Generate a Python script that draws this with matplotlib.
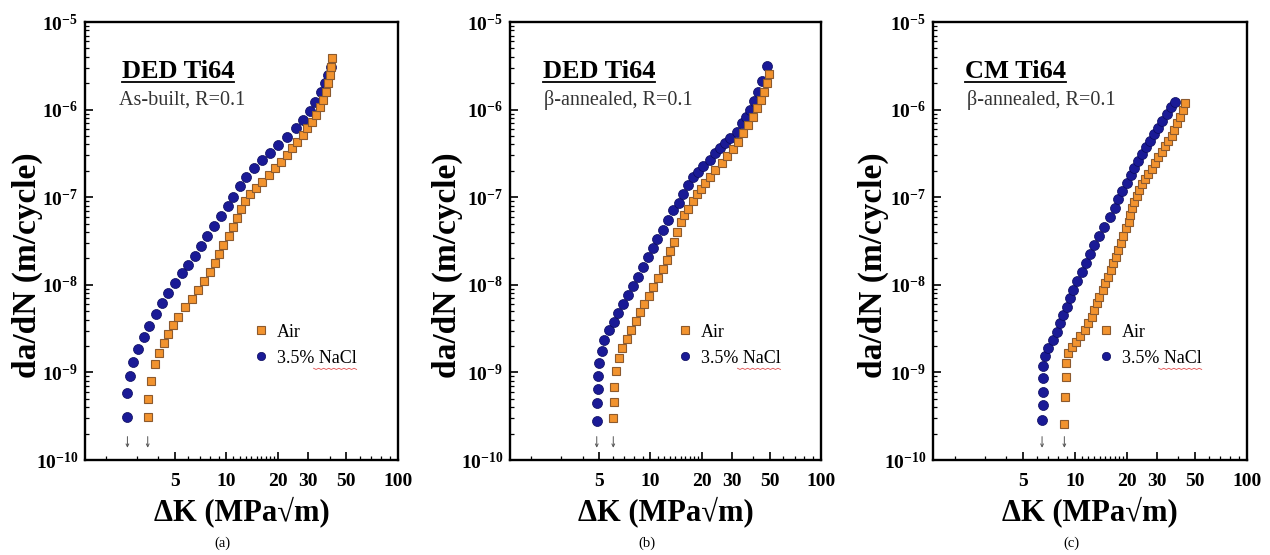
import numpy as np
import matplotlib
matplotlib.use("Agg")
import matplotlib.pyplot as plt
from matplotlib.ticker import FixedLocator, FixedFormatter, NullFormatter
from matplotlib.lines import Line2D

# ---------------- data ----------------
# Panel (a) DED Ti64 as-built
a_air_dK = [3.48, 3.48, 3.64, 3.84, 4.07, 4.33, 4.59, 4.90, 5.25, 5.74, 6.28, 6.86, 7.44, 8.02,
            8.58, 9.09, 9.6, 10.3, 10.9, 11.5, 12.1, 12.8, 13.8, 14.9, 16.2, 17.6, 19.1, 20.7,
            22.5, 24.0, 25.9, 27.8, 29.6, 31.4, 33.3, 35.1, 36.7, 38.1, 39.3, 40.2, 40.5, 41.1]
a_air_dadn = [3.07e-10, 4.93e-10, 8.04e-10, 1.24e-9, 1.65e-9, 2.15e-9, 2.74e-9, 3.47e-9, 4.32e-9,
              5.53e-9, 6.89e-9, 8.73e-9, 1.1e-8, 1.41e-8, 1.79e-8, 2.25e-8, 2.85e-8, 3.6e-8, 4.6e-8,
              5.74e-8, 7.3e-8, 9.0e-8, 1.08e-7, 1.28e-7, 1.5e-7, 1.79e-7, 2.14e-7, 2.54e-7, 3.03e-7,
              3.61e-7, 4.3e-7, 5.13e-7, 6.1e-7, 7.28e-7, 8.67e-7, 1.06e-6, 1.29e-6, 1.6e-6, 2.0e-6,
              2.48e-6, 3.09e-6, 3.86e-6]
a_nacl_dK = [2.65, 2.65, 2.74, 2.85, 3.07, 3.31, 3.56, 3.87, 4.2, 4.55, 5.02, 5.49, 6.0, 6.56, 7.11,
             7.74, 8.47, 9.3, 10.2, 11.0, 12.0, 13.0, 14.5, 16.1, 18.0, 20.1, 22.6, 25.5, 28.1,
             30.5, 33.0, 35.5, 37.5, 39.3, 40.6]
a_nacl_dadn = [3.07e-10, 5.77e-10, 9.1e-10, 1.32e-9, 1.84e-9, 2.56e-9, 3.41e-9, 4.6e-9, 6.15e-9,
               8.13e-9, 1.06e-8, 1.35e-8, 1.68e-8, 2.13e-8, 2.77e-8, 3.6e-8, 4.69e-8, 6.1e-8, 7.9e-8,
               1.01e-7, 1.35e-7, 1.7e-7, 2.14e-7, 2.66e-7, 3.22e-7, 3.95e-7, 4.9e-7, 6.1e-7, 7.7e-7,
               9.6e-7, 1.22e-6, 1.58e-6, 2.0e-6, 2.5e-6, 3.1e-6]

# Panel (b) DED Ti64 beta-annealed
b_air_dK = [6.05, 6.11, 6.13, 6.26, 6.54, 6.84, 7.25, 7.69, 8.19, 8.68, 9.2, 9.8, 10.4, 11.1, 11.8,
            12.45, 13.1, 13.7, 14.4, 15.1, 15.8, 16.7, 17.7, 18.7, 19.8, 20.9, 22.2, 24.0, 26.2,
            28.2, 30.6, 32.7, 35.0, 37.5, 40.1, 42.3, 44.5, 46.4, 48.0, 49.8]
b_air_dadn = [2.99e-10, 4.56e-10, 6.87e-10, 1.05e-9, 1.45e-9, 1.91e-9, 2.4e-9, 3.05e-9, 3.86e-9,
              4.85e-9, 6.0e-9, 7.45e-9, 9.35e-9, 1.19e-8, 1.51e-8, 1.92e-8, 2.45e-8, 3.1e-8, 4.03e-8,
              5.25e-8, 6.3e-8, 7.4e-8, 9.0e-8, 1.08e-7, 1.25e-7, 1.45e-7, 1.7e-7, 2.05e-7, 2.45e-7,
              2.95e-7, 3.52e-7, 4.3e-7, 5.37e-7, 6.7e-7, 8.3e-7, 1.04e-6, 1.29e-6, 1.6e-6, 2.0e-6,
              2.55e-6]
b_nacl_dK = [4.84, 4.88, 4.90, 4.90, 4.97, 5.18, 5.36, 5.73, 6.11, 6.48, 6.87, 7.41, 7.93, 8.48,
             9.07, 9.64, 10.3, 10.96, 11.8, 12.6, 13.5, 14.6, 15.6, 16.7, 17.8, 19.1, 20.4, 22.3,
             23.9, 25.6, 27.4, 29.3, 32.0, 34.3, 36.3, 38.3, 40.5, 42.8, 45.3, 48.0]
b_nacl_dadn = [2.81e-10, 4.43e-10, 6.46e-10, 9.1e-10, 1.29e-9, 1.77e-9, 2.35e-9, 3.05e-9, 3.8e-9,
               4.73e-9, 6.0e-9, 7.66e-9, 9.7e-9, 1.24e-8, 1.58e-8, 2.06e-8, 2.61e-8, 3.35e-8, 4.22e-8,
               5.5e-8, 7.1e-8, 8.65e-8, 1.1e-7, 1.38e-7, 1.68e-7, 1.95e-7, 2.3e-7, 2.66e-7, 3.17e-7,
               3.61e-7, 4.12e-7, 4.7e-7, 5.6e-7, 6.97e-7, 8.3e-7, 9.9e-7, 1.25e-6, 1.6e-6, 2.1e-6,
               3.15e-6]

# Panel (c) CM Ti64 beta-annealed
c_air_dK = [8.69, 8.77, 8.85, 8.85, 9.17, 9.59, 10.16, 10.7, 11.4, 12.0, 12.5, 13.0, 13.4, 13.9,
            14.5, 15.0, 15.5, 16.2, 16.7, 17.4, 17.9, 18.5, 19.1, 19.8, 20.5, 20.9, 21.6, 22.2,
            22.9, 23.7, 24.6, 25.6, 26.7, 27.9, 29.2, 30.6, 32.0, 33.4, 34.9, 36.6, 37.9, 39.4,
            40.9, 42.4, 43.7]
c_air_dadn = [2.56e-10, 5.2e-10, 8.9e-10, 1.27e-9, 1.65e-9, 1.93e-9, 2.24e-9, 2.6e-9, 3.05e-9,
              3.63e-9, 4.32e-9, 5.15e-9, 6.14e-9, 7.3e-9, 8.73e-9, 1.04e-8, 1.24e-8, 1.48e-8,
              1.76e-8, 2.1e-8, 2.5e-8, 2.98e-8, 3.6e-8, 4.4e-8, 5.25e-8, 6.26e-8, 7.46e-8, 8.9e-8,
              1.04e-7, 1.2e-7, 1.4e-7, 1.62e-7, 1.85e-7, 2.1e-7, 2.45e-7, 2.85e-7, 3.3e-7, 3.8e-7,
              4.35e-7, 5.0e-7, 5.85e-7, 6.97e-7, 8.3e-7, 9.9e-7, 1.18e-6]
c_nacl_dK = [6.45, 6.51, 6.51, 6.51, 6.51, 6.71, 7.02, 7.44, 7.85, 8.2, 8.57, 8.97, 9.38, 9.8, 10.3,
             11.0, 11.6, 12.3, 13.0, 13.8, 14.8, 15.9, 17.0, 17.9, 18.9, 20.0, 21.1, 22.2, 23.4,
             24.6, 25.8, 27.2, 28.7, 30.3, 32.0, 34.2, 36.4, 38.2]
c_nacl_dadn = [2.86e-10, 4.25e-10, 5.93e-10, 8.57e-10, 1.19e-9, 1.54e-9, 1.88e-9, 2.34e-9, 2.92e-9,
               3.63e-9, 4.52e-9, 5.62e-9, 7.0e-9, 8.73e-9, 1.11e-8, 1.41e-8, 1.79e-8, 2.25e-8,
               2.85e-8, 3.6e-8, 4.6e-8, 5.9e-8, 7.46e-8, 9.5e-8, 1.18e-7, 1.45e-7, 1.78e-7, 2.15e-7,
               2.6e-7, 3.1e-7, 3.7e-7, 4.4e-7, 5.2e-7, 6.2e-7, 7.4e-7, 9.0e-7, 1.07e-6, 1.23e-6]

panel_titles = ["DED Ti64", "DED Ti64", "CM Ti64"]
panel_subtitles = ["As-built, R=0.1", "\u03b2-annealed, R=0.1", "\u03b2-annealed, R=0.1"]
panel_letters = ["(a)", "(b)", "(c)"]
series_labels = ["Air", "3.5% NaCl"]

x_major = [5, 10, 20, 30, 50, 100]
x_major_labels = ["5", "10", "20", "30", "50", "100"]
y_major = [1e-10, 1e-9, 1e-8, 1e-7, 1e-6, 1e-5]
y_major_labels = [r"$\mathbf{10^{-10}}$", r"$\mathbf{10^{-9}}$", r"$\mathbf{10^{-8}}$",
                  r"$\mathbf{10^{-7}}$", r"$\mathbf{10^{-6}}$", r"$\mathbf{10^{-5}}$"]

# ---------------- style ----------------
plt.rcParams['font.family'] = ['Liberation Serif', 'DejaVu Serif']
plt.rcParams['mathtext.fontset'] = 'custom'
plt.rcParams['mathtext.rm'] = 'Liberation Serif'
plt.rcParams['mathtext.bf'] = 'Liberation Serif:bold'
plt.rcParams['mathtext.it'] = 'Liberation Serif:italic'

AIR_FACE = '#F2932E'
AIR_EDGE = '#8C5A2E'
NACL_FACE = '#1A1A96'
NACL_EDGE = '#0C0C5E'

W, H = 1270, 555
fig = plt.figure(figsize=(W / 100, H / 100), dpi=100)

ax_px = [(85, 398), (510, 821), (933, 1247)]
top_px, bot_px = 22, 460

data = [
    (a_air_dK, a_air_dadn, a_nacl_dK, a_nacl_dadn),
    (b_air_dK, b_air_dadn, b_nacl_dK, b_nacl_dadn),
    (c_air_dK, c_air_dadn, c_nacl_dK, c_nacl_dadn),
]
title_x = [0.118, 0.106, 0.102]
sub_x = [0.109, 0.109, 0.108]
leg_x = [0.538, 0.538, 0.527]
ylab_x = [-0.135, -0.15, -0.14]

x_minor = [2, 3, 4, 6, 7, 8, 9, 11, 12, 13, 14, 15, 16, 17, 18, 19, 40, 60, 70, 80, 90]
y_minor = [m * 10.0 ** e for e in range(-10, -5) for m in range(2, 10)]

axes = []
for i in range(3):
    l, r = ax_px[i]
    ax = fig.add_axes([l / W, (H - bot_px) / H, (r - l) / W, (bot_px - top_px) / H])
    axes.append(ax)
    air_x, air_y, na_x, na_y = data[i]
    ax.set_xscale('log')
    ax.set_yscale('log')
    ax.set_xlim(1.5, 100)
    ax.set_ylim(1e-10, 1e-5)

    h_air, = ax.plot(air_x, air_y, linestyle='none', marker='s', markersize=6.4,
                     markerfacecolor=AIR_FACE, markeredgecolor=AIR_EDGE, markeredgewidth=0.8,
                     label=series_labels[0], zorder=3)
    h_na, = ax.plot(na_x, na_y, linestyle='none', marker='o', markersize=7.2,
                    markerfacecolor=NACL_FACE, markeredgecolor=NACL_EDGE, markeredgewidth=0.5,
                    label=series_labels[1], zorder=2)

    # threshold arrows under first points
    for xs in (na_x[0], air_x[0]):
        ax.annotate('', xy=(xs, 1.38e-10), xytext=(xs, 1.85e-10),
                    arrowprops=dict(arrowstyle='->', color='#555555', lw=0.7,
                                    mutation_scale=5, shrinkA=0, shrinkB=0))

    # ticks
    ax.xaxis.set_major_locator(FixedLocator(x_major))
    ax.xaxis.set_major_formatter(FixedFormatter(x_major_labels))
    ax.xaxis.set_minor_locator(FixedLocator(x_minor))
    ax.xaxis.set_minor_formatter(NullFormatter())
    ax.yaxis.set_major_locator(FixedLocator(y_major))
    ax.yaxis.set_major_formatter(FixedFormatter(y_major_labels))
    ax.yaxis.set_minor_locator(FixedLocator(y_minor))
    ax.yaxis.set_minor_formatter(NullFormatter())
    ax.tick_params(which='major', direction='in', length=6, width=1.2, top=False, right=False)
    ax.tick_params(axis='x', which='major', labelsize=14, pad=9)
    ax.tick_params(axis='y', which='major', labelsize=14, pad=5)
    ax.tick_params(which='minor', direction='in', length=3, width=0.9, top=False, right=False)
    for lab in ax.get_xticklabels():
        lab.set_fontweight('bold')
    for sp in ax.spines.values():
        sp.set_linewidth(1.7)

    ax.set_xlabel("\u0394K (MPa\u221am)", fontsize=22, fontweight='bold', labelpad=5)
    ax.set_ylabel("da/dN (m/cycle)", fontsize=24, fontweight='bold')
    ax.yaxis.set_label_coords(ylab_x[i], 0.445)

    t = ax.text(title_x[i], 0.888, panel_titles[i], transform=ax.transAxes, fontsize=19,
                fontweight='bold', ha='left', va='center')
    ax.text(sub_x[i], 0.822, panel_subtitles[i], transform=ax.transAxes, fontsize=14.5,
            ha='left', va='center', color='#333333')

    leg = ax.legend(handles=[h_air, h_na], loc='center left', bbox_to_anchor=(leg_x[i], 0.262),
                    frameon=False, fontsize=13, handlelength=0.8, handletextpad=0.5,
                    labelspacing=0.5, borderpad=0, borderaxespad=0)
    leg.legend_handles[0].set_markersize(5.2)
    leg.legend_handles[1].set_markersize(6.0)

    fig.text(((l + r) / 2 - 19) / W, 1 - 543 / H, panel_letters[i], fontsize=10.5,
             ha='center', va='center')

    ax._title_artist = t
    ax._legend_ref = leg

# underline titles and red spell-check squiggle under "NaCl"
fig.canvas.draw()
renderer = fig.canvas.get_renderer()
inv = fig.transFigure.inverted()
for ax in axes:
    bb = ax._title_artist.get_window_extent(renderer)
    (x0, y0) = inv.transform((bb.x0, bb.y0 + 1))
    (x1, _) = inv.transform((bb.x1, bb.y0 + 1))
    fig.add_artist(Line2D([x0, x1], [y0, y0], transform=fig.transFigure, color='black', lw=1.3))
    tb = ax._legend_ref.get_texts()[1].get_window_extent(renderer)
    sx0 = tb.x0 + 0.46 * tb.width
    sx1 = tb.x1
    n = 18
    xs = np.linspace(sx0, sx1, n)
    ys = tb.y0 - 1.5 + np.where(np.arange(n) % 2 == 0, 0.0, -1.2)
    pts = inv.transform(np.column_stack([xs, ys]))
    fig.add_artist(Line2D(pts[:, 0], pts[:, 1], transform=fig.transFigure, color='#E05050', lw=0.6))

fig.savefig("out.png", dpi=100)
